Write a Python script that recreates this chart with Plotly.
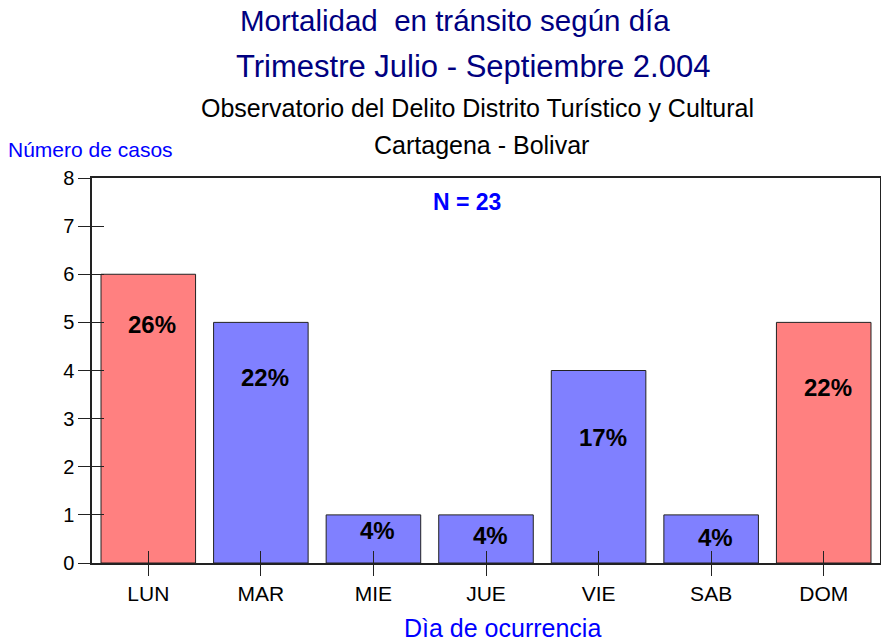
import plotly.graph_objects as go

# === Data ===
days = ["LUN", "MAR", "MIE", "JUE", "VIE", "SAB", "DOM"]
cases = [6, 5, 1, 1, 4, 1, 5]
pct_labels = ["26%", "22%", "4%", "4%", "17%", "4%", "22%"]
day_group = ["fin", "sem", "sem", "sem", "sem", "sem", "fin"]
total_n = 23

# === Styles ===
group_colors = {"fin": "#FF8080", "sem": "#8080FF"}
bar_colors = [group_colors[g] for g in day_group]
# vertical position of each % label (in axis units), as in the original
label_y = [4.95, 3.85, 0.67, 0.58, 2.6, 0.52, 3.64]

FONT = "Liberation Sans, Arial, sans-serif"

fig = go.Figure()
fig.add_trace(go.Bar(
    x=days, y=cases,
    marker=dict(color=bar_colors, line=dict(color="#222222", width=1)),
    width=0.84,
    hoverinfo="x+y",
))

# % labels inside bars
for d, lab, ly in zip(days, pct_labels, label_y):
    fig.add_annotation(x=d, y=ly, xshift=4, text="<b>%s</b>" % lab, showarrow=False,
                       font=dict(size=24, color="black", family=FONT))

fig.add_annotation(x=0.5, y=7.5, xref="paper", yref="y", xshift=-19,
                   text="<b>N = %d</b>" % total_n,
                   showarrow=False, font=dict(size=23, color="#0000FF", family=FONT))

# titles (positioned relative to the top of the plot area)
titles = [
    ("Mortalidad  en tránsito según día", 29.5, "#000080", -31, 158),
    ("Trimestre Julio - Septiembre 2.004", 31, "#000080", -13, 112),
    ("Observatorio del Delito Distrito Turístico y Cultural", 25, "black", -9, 70),
    ("Cartagena - Bolivar", 25, "black", -5, 33),
]
for txt, size, col, dx, dy in titles:
    fig.add_annotation(x=0.5, y=1, xref="paper", yref="paper", yanchor="middle",
                       xshift=dx, yshift=dy, text=txt, showarrow=False,
                       font=dict(size=size, color=col, family=FONT))

fig.add_annotation(x=0, y=1, xref="paper", yref="paper", xanchor="left", yanchor="middle",
                   xshift=-86, yshift=29, text="Número de casos", showarrow=False,
                   font=dict(size=21, color="#0000FF", family=FONT))

# x axis title
fig.add_annotation(x=0.5, y=0, xref="paper", yref="paper", yanchor="middle",
                   xshift=16, yshift=-65, text="Dìa de ocurrencia", showarrow=False,
                   font=dict(size=25, color="#0000FF", family=FONT))

fig.update_layout(
    width=881, height=642,
    margin=dict(l=92, r=1, t=178, b=79, autoexpand=False),
    paper_bgcolor="white", plot_bgcolor="white",
    font=dict(family=FONT, color="black"),
    showlegend=False,
    xaxis=dict(
        tickfont=dict(size=21), ticks="outside", ticklen=11, tickcolor="#222222",
        showline=True, linecolor="#222222", linewidth=1.5, mirror=True,
        showgrid=False, range=[-0.5, 6.5],
    ),
    yaxis=dict(
        range=[0, 8], dtick=1, tickfont=dict(size=20), ticks="outside", ticklen=12,
        tickcolor="#222222", showline=True, linecolor="#222222", linewidth=1.5, mirror=True,
        showgrid=False, zeroline=False,
    ),
    xaxis2=dict(overlaying="x", matches="x", side="bottom", ticks="inside", ticklen=12,
                tickcolor="#222222", showticklabels=False, showgrid=False, showline=False,
                range=[-0.5, 6.5]),
    yaxis2=dict(overlaying="y", matches="y", side="left", ticks="inside", ticklen=12,
                tickcolor="#222222", showticklabels=False, showgrid=False, showline=False,
                range=[0, 8], dtick=1),
)

# invisible trace to activate the inner tick axes
fig.add_trace(go.Scatter(x=days, y=cases, xaxis="x2", yaxis="y2", mode="markers",
                         marker=dict(opacity=0), hoverinfo="skip"))

fig.write_html("out.html", config={"displayModeBar": False},
               post_script="document.body.style.margin='0';")
